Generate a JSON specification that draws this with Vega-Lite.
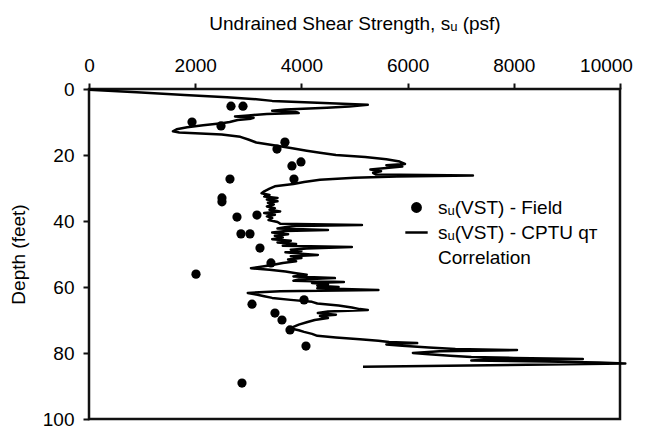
{
  "$schema": "https://vega.github.io/schema/vega-lite/v6.json",
  "width": 531,
  "height": 330,
  "autosize": {"type": "none"},
  "padding": {"left": 89, "top": 89, "right": 28, "bottom": 13},
  "background": "white",
  "config": {
    "font": "Liberation Sans",
    "view": {"stroke": "#111111", "strokeWidth": 2.5},
    "axis": {
      "grid": false, "domain": false,
      "ticks": true, "tickColor": "#111111", "tickWidth": 2, "tickSize": 6,
      "labelColor": "black", "labelFontSize": 19, "labelFont": "Liberation Sans",
      "titleColor": "black", "titleFontSize": 19, "titleFontWeight": "normal", "titleFont": "Liberation Sans"
    }
  },
  "datasets": {
    "cptu": [
      {"depth": 0.2, "su": 0}, {"depth": 1.0, "su": 900}, {"depth": 1.8, "su": 1800}, {"depth": 2.5, "su": 2600},
      {"depth": 3.0, "su": 3070}, {"depth": 3.6, "su": 3450}, {"depth": 4.2, "su": 4300}, {"depth": 4.8, "su": 5250},
      {"depth": 5.3, "su": 4900}, {"depth": 5.7, "su": 4480}, {"depth": 6.2, "su": 3700}, {"depth": 6.6, "su": 3450},
      {"depth": 7.0, "su": 3900}, {"depth": 7.3, "su": 3950}, {"depth": 7.6, "su": 3350}, {"depth": 8.0, "su": 3000},
      {"depth": 8.3, "su": 2750}, {"depth": 8.7, "su": 3100}, {"depth": 9.0, "su": 3050}, {"depth": 9.4, "su": 2800},
      {"depth": 10.0, "su": 2650}, {"depth": 10.4, "su": 2500}, {"depth": 11.0, "su": 2150}, {"depth": 11.6, "su": 1850},
      {"depth": 12.2, "su": 1650}, {"depth": 12.8, "su": 1580}, {"depth": 13.2, "su": 1700}, {"depth": 13.5, "su": 2100},
      {"depth": 13.8, "su": 2500}, {"depth": 14.5, "su": 2850}, {"depth": 15.3, "su": 3000}, {"depth": 16.2, "su": 3150},
      {"depth": 17.0, "su": 3450}, {"depth": 17.9, "su": 3800}, {"depth": 18.7, "su": 4100}, {"depth": 19.3, "su": 4350},
      {"depth": 20.0, "su": 4650}, {"depth": 20.6, "su": 5200}, {"depth": 21.3, "su": 5600}, {"depth": 22.0, "su": 5850},
      {"depth": 22.7, "su": 5950}, {"depth": 23.1, "su": 5600}, {"depth": 23.5, "su": 5900}, {"depth": 24.0, "su": 5550},
      {"depth": 24.4, "su": 5300}, {"depth": 24.9, "su": 5500}, {"depth": 25.4, "su": 5350}, {"depth": 25.9, "su": 5400},
      {"depth": 26.2, "su": 7230}, {"depth": 26.5, "su": 5800}, {"depth": 26.9, "su": 5000}, {"depth": 27.5, "su": 4350},
      {"depth": 28.2, "su": 4050}, {"depth": 28.8, "su": 3850}, {"depth": 29.5, "su": 3500}, {"depth": 30.2, "su": 3400},
      {"depth": 31.0, "su": 3300}, {"depth": 31.6, "su": 3250}, {"depth": 32.1, "su": 3400}, {"depth": 32.6, "su": 3300},
      {"depth": 33.0, "su": 3550}, {"depth": 33.5, "su": 3350}, {"depth": 34.0, "su": 3550}, {"depth": 34.5, "su": 3370},
      {"depth": 35.0, "su": 3480}, {"depth": 35.6, "su": 3350}, {"depth": 36.1, "su": 3500}, {"depth": 36.6, "su": 3400},
      {"depth": 37.1, "su": 3600}, {"depth": 37.6, "su": 3300}, {"depth": 38.1, "su": 3500}, {"depth": 38.6, "su": 3350},
      {"depth": 39.1, "su": 3450}, {"depth": 39.7, "su": 3380}, {"depth": 40.3, "su": 3550}, {"depth": 40.8, "su": 3600},
      {"depth": 41.2, "su": 5140}, {"depth": 41.5, "su": 3900}, {"depth": 41.9, "su": 3690}, {"depth": 42.3, "su": 3550},
      {"depth": 42.7, "su": 4500}, {"depth": 43.0, "su": 3700}, {"depth": 43.5, "su": 3450}, {"depth": 44.0, "su": 3750},
      {"depth": 44.5, "su": 3500}, {"depth": 45.0, "su": 3650}, {"depth": 45.5, "su": 3450}, {"depth": 46.0, "su": 3800},
      {"depth": 46.5, "su": 3550}, {"depth": 47.0, "su": 3900}, {"depth": 47.5, "su": 3650}, {"depth": 47.9, "su": 4950},
      {"depth": 48.3, "su": 4100}, {"depth": 48.7, "su": 3800}, {"depth": 49.1, "su": 4000}, {"depth": 49.5, "su": 3700},
      {"depth": 49.9, "su": 4000}, {"depth": 50.3, "su": 4310}, {"depth": 50.7, "su": 3800}, {"depth": 51.2, "su": 4000},
      {"depth": 51.7, "su": 3750}, {"depth": 52.2, "su": 3900}, {"depth": 52.7, "su": 3650}, {"depth": 53.2, "su": 3500},
      {"depth": 53.7, "su": 3300}, {"depth": 54.3, "su": 3050}, {"depth": 54.8, "su": 3400}, {"depth": 55.3, "su": 3700},
      {"depth": 55.8, "su": 3900}, {"depth": 56.3, "su": 4100}, {"depth": 56.8, "su": 3850}, {"depth": 57.3, "su": 4630},
      {"depth": 57.7, "su": 3950}, {"depth": 58.1, "su": 3850}, {"depth": 58.5, "su": 4800}, {"depth": 58.8, "su": 4200},
      {"depth": 59.2, "su": 4500}, {"depth": 59.6, "su": 4300}, {"depth": 60.0, "su": 4700}, {"depth": 60.4, "su": 4300},
      {"depth": 60.9, "su": 5450}, {"depth": 61.3, "su": 3600}, {"depth": 61.8, "su": 2990}, {"depth": 62.3, "su": 3150},
      {"depth": 62.8, "su": 3300}, {"depth": 63.3, "su": 3450}, {"depth": 63.9, "su": 3800}, {"depth": 64.5, "su": 4200},
      {"depth": 65.0, "su": 4300}, {"depth": 65.6, "su": 4700}, {"depth": 66.2, "su": 4950}, {"depth": 66.7, "su": 5100},
      {"depth": 67.0, "su": 5250}, {"depth": 67.4, "su": 4500}, {"depth": 67.9, "su": 4310}, {"depth": 68.4, "su": 4650},
      {"depth": 68.8, "su": 4350}, {"depth": 69.4, "su": 4500}, {"depth": 70.0, "su": 4250}, {"depth": 70.7, "su": 4100},
      {"depth": 71.4, "su": 3950}, {"depth": 72.1, "su": 3850}, {"depth": 72.6, "su": 3800}, {"depth": 73.1, "su": 3950},
      {"depth": 73.6, "su": 4050}, {"depth": 74.2, "su": 4200}, {"depth": 74.8, "su": 4300}, {"depth": 75.3, "su": 4650},
      {"depth": 75.8, "su": 5100}, {"depth": 76.3, "su": 5450}, {"depth": 76.7, "su": 5650}, {"depth": 77.0, "su": 6180},
      {"depth": 77.4, "su": 5600}, {"depth": 77.8, "su": 5900}, {"depth": 78.3, "su": 6400}, {"depth": 78.8, "su": 6900},
      {"depth": 79.1, "su": 8060}, {"depth": 79.5, "su": 6600}, {"depth": 80.0, "su": 6100}, {"depth": 80.4, "su": 6400},
      {"depth": 80.8, "su": 6800}, {"depth": 81.2, "su": 7200}, {"depth": 81.5, "su": 8000}, {"depth": 81.8, "su": 9300},
      {"depth": 82.0, "su": 7500}, {"depth": 82.3, "su": 7200}, {"depth": 82.6, "su": 8600}, {"depth": 82.9, "su": 9600},
      {"depth": 83.2, "su": 10100}, {"depth": 84.2, "su": 5160}
    ],
    "vst": [
      {"su": 2674, "depth": 5.2, "kind": "Field"}, {"su": 2900, "depth": 5.2, "kind": "Field"},
      {"su": 1940, "depth": 10.0, "kind": "Field"}, {"su": 2486, "depth": 11.2, "kind": "Field"},
      {"su": 3690, "depth": 16.1, "kind": "Field"}, {"su": 3540, "depth": 18.2, "kind": "Field"},
      {"su": 3992, "depth": 22.1, "kind": "Field"}, {"su": 3822, "depth": 23.3, "kind": "Field"},
      {"su": 2655, "depth": 27.3, "kind": "Field"}, {"su": 3860, "depth": 27.3, "kind": "Field"},
      {"su": 2504, "depth": 33.0, "kind": "Field"}, {"su": 2504, "depth": 34.2, "kind": "Field"},
      {"su": 2787, "depth": 38.8, "kind": "Field"}, {"su": 3163, "depth": 38.2, "kind": "Field"},
      {"su": 2862, "depth": 43.9, "kind": "Field"}, {"su": 3032, "depth": 43.9, "kind": "Field"},
      {"su": 3220, "depth": 48.2, "kind": "Field"}, {"su": 3427, "depth": 52.7, "kind": "Field"},
      {"su": 2015, "depth": 56.1, "kind": "Field"}, {"su": 4050, "depth": 63.9, "kind": "Field"},
      {"su": 3070, "depth": 65.2, "kind": "Field"}, {"su": 3502, "depth": 67.9, "kind": "Field"},
      {"su": 3634, "depth": 70.0, "kind": "Field"}, {"su": 3785, "depth": 73.0, "kind": "Field"},
      {"su": 4086, "depth": 77.9, "kind": "Field"}, {"su": 2881, "depth": 89.1, "kind": "Field"}
    ]
  },
  "encoding": {
    "x": {
      "field": "su", "type": "quantitative",
      "scale": {"domain": [0, 10000], "nice": false, "zero": false},
      "axis": {
        "orient": "top", "title": "Undrained Shear Strength, sᵤ (psf)",
        "values": [0, 2000, 4000, 6000, 8000, 10000], "format": "d",
        "labelPadding": 8, "titlePadding": 23, "labelFlush": false,
        "encoding": {"labels": {"dx": {"value": {"expr": "datum.value === 10000 ? -14 : 0"}}}}
      }
    },
    "y": {
      "field": "depth", "type": "quantitative",
      "scale": {"domain": [0, 100], "reverse": true, "nice": false, "zero": false},
      "axis": {
        "title": "Depth (feet)", "values": [0, 20, 40, 60, 80, 100], "format": "d",
        "labelPadding": 9, "titlePadding": 14, "labelFlush": false
      }
    }
  },
  "layer": [
    {
      "data": {"name": "cptu"},
      "mark": {"type": "line", "color": "black", "strokeWidth": 2.5, "clip": false, "strokeJoin": "round"},
      "encoding": {"order": {"field": "depth", "type": "quantitative"}}
    },
    {
      "data": {"name": "vst"},
      "mark": {"type": "point", "filled": true, "color": "black", "opacity": 1, "size": 85},
      "encoding": {
        "shape": {
          "field": "kind", "type": "nominal",
          "scale": {"domain": ["Field", "CPTU", "Corr"], "range": ["circle", "stroke", "circle"]},
          "legend": {
            "title": null, "orient": "none", "legendX": 315, "legendY": 106,
            "labelExpr": "datum.value === 'Field' ? 'sᵤ(VST) - Field' : datum.value === 'CPTU' ? 'sᵤ(VST) - CPTU qᴛ' : 'Correlation'",
            "labelFontSize": 19, "labelColor": "black", "labelLimit": 0, "labelOffset": 9,
            "symbolSize": 500, "rowPadding": 2, "padding": 0,
            "encoding": {
              "symbols": {
                "fill": {"value": "black"},
                "stroke": {"value": "black"},
                "strokeWidth": {"value": 2.5},
                "size": {"value": {"expr": "datum.value === 'Field' ? 70 : 500"}},
                "opacity": {"value": {"expr": "datum.value === 'Corr' ? 0 : 1"}}
              }
            }
          }
        }
      }
    }
  ]
}
